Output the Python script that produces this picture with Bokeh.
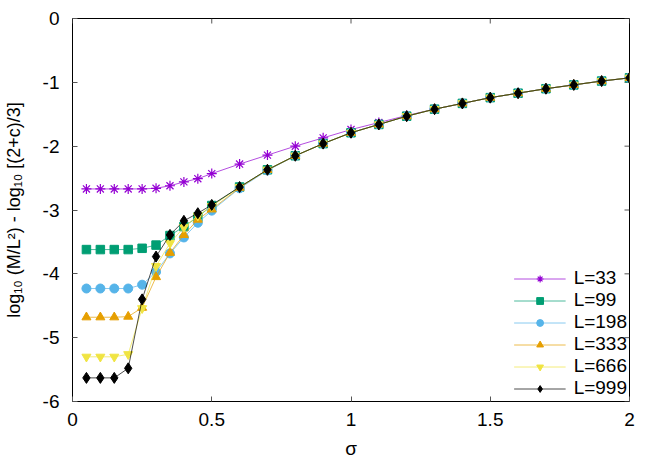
from bokeh.plotting import figure
from bokeh.models import FixedTicker, Range1d, Legend, LegendItem
from bokeh.embed import file_html
from bokeh.resources import INLINE

sigma = [0.05, 0.1, 0.15, 0.2, 0.25, 0.3, 0.35, 0.4, 0.45, 0.5,
         0.6, 0.7, 0.8, 0.9, 1.0, 1.1, 1.2, 1.3, 1.4, 1.5, 1.6, 1.7, 1.8, 1.9, 2.0]

L33 = [-2.67, -2.67, -2.67, -2.67, -2.67, -2.66, -2.62, -2.56, -2.51, -2.43,
       -2.28, -2.14, -2.00, -1.87, -1.74, -1.63, -1.52, -1.42, -1.33, -1.24,
       -1.17, -1.10, -1.04, -0.98, -0.93]
L99 = [-3.62, -3.62, -3.62, -3.62, -3.60, -3.55, -3.40, -3.26, -3.11, -2.93,
       -2.64, -2.37, -2.15, -1.96, -1.79, -1.66, -1.53, -1.42, -1.33, -1.24,
       -1.17, -1.10, -1.04, -0.98, -0.93]
L198 = [-4.23, -4.23, -4.23, -4.23, -4.17, -3.97, -3.68, -3.43, -3.20, -3.01,
        -2.66, -2.38, -2.15, -1.96, -1.79, -1.66, -1.53, -1.42, -1.33, -1.24,
        -1.17, -1.10, -1.04, -0.98, -0.93]
L333 = [-4.68, -4.68, -4.68, -4.67, -4.53, -4.05, -3.67, -3.39, -3.15, -2.99,
        -2.65, -2.37, -2.15, -1.96, -1.79, -1.66, -1.53, -1.42, -1.33, -1.24,
        -1.17, -1.10, -1.04, -0.98, -0.93]
L666 = [-5.30, -5.30, -5.30, -5.26, -4.54, -3.88, -3.52, -3.27, -3.09, -2.94,
        -2.64, -2.37, -2.15, -1.96, -1.79, -1.66, -1.53, -1.42, -1.33, -1.24,
        -1.17, -1.10, -1.04, -0.98, -0.93]
L999 = [-5.63, -5.63, -5.63, -5.48, -4.40, -3.73, -3.39, -3.17, -3.05, -2.92,
        -2.64, -2.37, -2.15, -1.96, -1.79, -1.66, -1.53, -1.42, -1.33, -1.24,
        -1.17, -1.10, -1.04, -0.98, -0.93]

series_labels = ["L=33", "L=99", "L=198", "L=333", "L=666", "L=999"]
series_values = [L33, L99, L198, L333, L666, L999]

x_ticks = [0, 0.5, 1, 1.5, 2]
x_tick_labels = ["0", "0.5", "1", "1.5", "2"]
y_ticks = [0, -1, -2, -3, -4, -5, -6]
y_tick_labels = ["0", "-1", "-2", "-3", "-4", "-5", "-6"]

x_title = "σ"
y_title = "log₁₀ (M/L²) - log₁₀ [(2+c)/3]"

colors = ["#9400d3", "#009e73", "#56b4e9", "#e69f00", "#f0e442", "#000000"]
markers = ["asterisk", "square", "circle", "triangle", "inverted_triangle", "diamond"]
sizes = [10, 8.5, 9, 9, 9, 11]

FONT = "Liberation Sans"
FS = "19px"
TICK_COLOR = "#555555"
TICK_LEN_PX = 5
FRAME_W, FRAME_H = 557, 383

p = figure(frame_width=FRAME_W, frame_height=FRAME_H, output_backend="svg",
           toolbar_location=None, x_range=Range1d(0, 2), y_range=Range1d(-6, 0),
           min_border_left=68, min_border_right=20, min_border_top=18,
           min_border_bottom=48)
p.background_fill_color = "white"
p.border_fill_color = "white"
p.outline_line_color = "black"
p.outline_line_width = 1
p.xgrid.visible = False
p.ygrid.visible = False

def style_axis(ax, ticks, labels):
    ax.ticker = FixedTicker(ticks=ticks)
    ax.major_label_overrides = {t: l for t, l in zip(ticks, labels)}
    ax.major_tick_in = TICK_LEN_PX
    ax.major_tick_out = 0
    ax.minor_tick_line_color = None
    ax.axis_line_color = None
    ax.major_tick_line_color = TICK_COLOR
    ax.major_label_text_font = FONT
    ax.major_label_text_font_size = FS
    ax.major_label_text_color = "black"
    ax.axis_label_text_font = FONT
    ax.axis_label_text_font_size = FS
    ax.axis_label_text_font_style = "normal"
    ax.axis_label_text_color = "black"

style_axis(p.xaxis[0], x_ticks, x_tick_labels)
style_axis(p.yaxis[0], y_ticks, y_tick_labels)
p.xaxis[0].axis_label = x_title
p.yaxis[0].axis_label = y_title
p.yaxis[0].axis_label_text_font_size = "18px"
p.xaxis[0].major_label_standoff = 11
p.yaxis[0].major_label_standoff = 13
p.xaxis[0].axis_label_standoff = 9
p.yaxis[0].axis_label_standoff = 16

# mirror ticks on the top and right edges (gnuplot style), tick length converted to data units
x0, x1 = p.x_range.start, p.x_range.end
y0, y1 = p.y_range.start, p.y_range.end
dy = TICK_LEN_PX * (y1 - y0) / FRAME_H
dx = TICK_LEN_PX * (x1 - x0) / FRAME_W
p.segment(x0=x_ticks, y0=[y1] * len(x_ticks), x1=x_ticks, y1=[y1 - dy] * len(x_ticks),
          line_color=TICK_COLOR, line_width=1)
p.segment(x0=[x1] * len(y_ticks), y0=y_ticks, x1=[x1 - dx] * len(y_ticks), y1=y_ticks,
          line_color=TICK_COLOR, line_width=1)

items = []
for lab, vals, c, m, s in zip(series_labels, series_values, colors, markers, sizes):
    ln = p.line(sigma, vals, line_color=c, line_width=1, line_alpha=0.7)
    sc = p.scatter(sigma, vals, marker=m, size=s, fill_color=c, line_color=c,
                   line_width=1.2 if m == "asterisk" else 1)
    items.append(LegendItem(label=lab, renderers=[ln, sc]))

legend = Legend(items=items, location="bottom_right")
legend.label_text_font = FONT
legend.label_text_font_size = FS
legend.label_text_color = "black"
legend.border_line_alpha = 0
legend.background_fill_alpha = 0
legend.glyph_width = 52
legend.glyph_height = 17
legend.label_height = 17
legend.spacing = -4
legend.padding = 0
legend.margin = 2
legend.label_standoff = 8
p.add_layout(legend)

open("out.html", "w").write(file_html(p, INLINE))
